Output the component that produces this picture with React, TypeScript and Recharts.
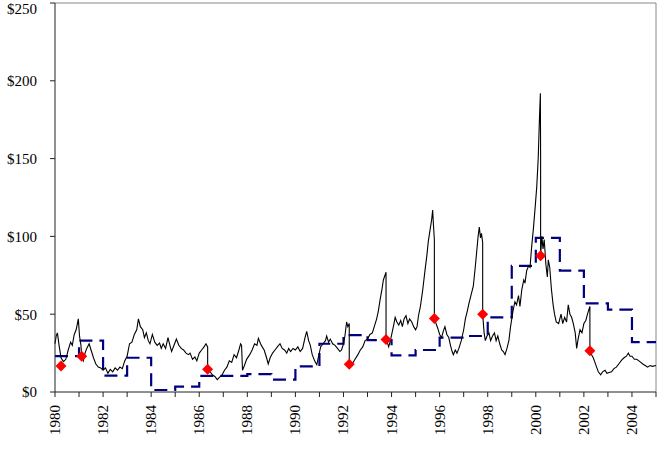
import React from 'react';
import {
  ComposedChart,
  Line,
  Scatter,
  XAxis,
  YAxis,
  ReferenceLine,
} from 'recharts';

// Daily price path, sampled as [year, price] pairs. Repeated years mark the sudden drops.
const priceSeries: [number, number][] = [
  [1980.0, 31], [1980.05, 36], [1980.1, 38], [1980.17, 30], [1980.25, 22], [1980.35, 19.5],
  [1980.45, 21], [1980.55, 27], [1980.65, 32], [1980.72, 30], [1980.8, 37], [1980.88, 40],
  [1980.97, 47], [1981.02, 36], [1981.08, 30], [1981.11, 23], [1981.18, 20], [1981.25, 25],
  [1981.32, 28], [1981.42, 31], [1981.5, 27], [1981.6, 22], [1981.7, 18], [1981.8, 16],
  [1981.9, 15.5], [1982.0, 14], [1982.1, 15.5], [1982.2, 12], [1982.3, 14.5], [1982.4, 13],
  [1982.5, 15.5], [1982.6, 14], [1982.7, 16], [1982.8, 15], [1982.9, 20], [1983.0, 23],
  [1983.1, 31], [1983.2, 32], [1983.3, 37], [1983.4, 40], [1983.47, 47], [1983.55, 42],
  [1983.65, 40], [1983.72, 35], [1983.8, 38], [1983.88, 33], [1983.95, 31], [1984.05, 37],
  [1984.15, 32], [1984.25, 30], [1984.35, 31.5], [1984.42, 28], [1984.5, 31], [1984.6, 28],
  [1984.7, 35], [1984.78, 30], [1984.85, 26], [1984.95, 30], [1985.05, 34], [1985.15, 30],
  [1985.25, 28], [1985.35, 27], [1985.45, 25], [1985.55, 24], [1985.62, 25], [1985.72, 21],
  [1985.82, 22.5], [1985.9, 20], [1986.0, 25], [1986.1, 27], [1986.2, 29], [1986.28, 31],
  [1986.35, 29], [1986.35, 14.6], [1986.45, 13], [1986.55, 11], [1986.65, 10], [1986.75, 8],
  [1986.85, 9.5], [1986.95, 11], [1987.05, 14], [1987.15, 16], [1987.25, 20], [1987.35, 19],
  [1987.45, 24], [1987.55, 22], [1987.65, 27], [1987.72, 31], [1987.76, 30], [1987.8, 14],
  [1987.88, 17], [1987.97, 21], [1988.1, 24], [1988.2, 27], [1988.3, 31], [1988.4, 30],
  [1988.46, 34.5], [1988.55, 31], [1988.62, 29], [1988.7, 27], [1988.8, 22], [1988.87, 18],
  [1988.95, 22], [1989.05, 25], [1989.15, 27], [1989.25, 29], [1989.36, 31], [1989.45, 28],
  [1989.55, 27], [1989.64, 25], [1989.72, 28], [1989.8, 26], [1989.9, 28], [1990.0, 27],
  [1990.1, 29], [1990.2, 26], [1990.3, 28], [1990.4, 35], [1990.47, 39], [1990.55, 33],
  [1990.62, 30], [1990.7, 24], [1990.8, 20], [1990.89, 17.5], [1990.95, 22], [1991.05, 29],
  [1991.15, 31], [1991.25, 33], [1991.3, 36], [1991.38, 32], [1991.45, 34], [1991.55, 31],
  [1991.65, 30], [1991.75, 28], [1991.85, 26], [1991.92, 27], [1992.0, 31], [1992.06, 36],
  [1992.13, 45], [1992.18, 42], [1992.24, 44], [1992.24, 17.8], [1992.32, 19], [1992.4, 19],
  [1992.48, 21], [1992.6, 24], [1992.7, 27], [1992.8, 29], [1992.9, 33], [1993.0, 34],
  [1993.1, 37], [1993.2, 38], [1993.3, 43], [1993.38, 47], [1993.45, 52], [1993.52, 59],
  [1993.6, 66], [1993.66, 72], [1993.77, 77], [1993.77, 33.8], [1993.82, 32], [1993.88, 29],
  [1993.95, 33], [1994.02, 38], [1994.1, 44], [1994.15, 48], [1994.22, 45], [1994.3, 43],
  [1994.38, 46], [1994.45, 42], [1994.52, 47], [1994.6, 49], [1994.68, 44], [1994.75, 47],
  [1994.84, 45], [1994.92, 42], [1995.0, 40], [1995.06, 42], [1995.12, 49], [1995.2, 55],
  [1995.3, 66], [1995.39, 78], [1995.47, 88], [1995.53, 97], [1995.6, 104], [1995.67, 111],
  [1995.71, 117], [1995.74, 108], [1995.78, 98], [1995.78, 47.3], [1995.85, 44], [1995.92, 41],
  [1996.0, 37], [1996.08, 35], [1996.15, 39], [1996.22, 42], [1996.3, 37], [1996.38, 35],
  [1996.45, 30], [1996.52, 26], [1996.57, 24], [1996.65, 27], [1996.72, 25], [1996.8, 28],
  [1996.9, 33], [1997.0, 40], [1997.07, 47], [1997.15, 52], [1997.22, 57], [1997.3, 62],
  [1997.4, 68], [1997.48, 80], [1997.54, 90], [1997.6, 100], [1997.65, 106], [1997.7, 99],
  [1997.74, 102], [1997.79, 96], [1997.79, 50], [1997.85, 38], [1997.9, 33], [1997.97, 36],
  [1998.05, 38], [1998.12, 33], [1998.2, 36], [1998.28, 38], [1998.35, 33], [1998.42, 36],
  [1998.5, 31], [1998.58, 27], [1998.65, 26], [1998.72, 24], [1998.8, 28], [1998.88, 33],
  [1998.95, 42], [1999.05, 52], [1999.13, 58], [1999.2, 56], [1999.28, 62], [1999.34, 55],
  [1999.42, 66], [1999.5, 72], [1999.55, 70], [1999.62, 78], [1999.7, 81], [1999.76, 80],
  [1999.82, 92], [1999.9, 105], [1999.97, 118], [2000.04, 132], [2000.1, 150], [2000.15, 175],
  [2000.19, 192], [2000.2, 150], [2000.2, 87.6], [2000.25, 100], [2000.3, 92], [2000.35, 98],
  [2000.42, 82], [2000.48, 74], [2000.52, 85], [2000.58, 80], [2000.65, 66], [2000.72, 56],
  [2000.78, 50], [2000.85, 45], [2000.95, 44], [2001.05, 50], [2001.12, 44], [2001.2, 48],
  [2001.28, 45], [2001.35, 56], [2001.42, 50], [2001.49, 48], [2001.56, 44], [2001.64, 38],
  [2001.7, 28], [2001.76, 34], [2001.84, 40], [2001.92, 38], [2002.0, 44], [2002.08, 46],
  [2002.15, 50], [2002.25, 55], [2002.25, 26.5], [2002.32, 24], [2002.39, 22], [2002.46, 19],
  [2002.53, 16], [2002.6, 13], [2002.7, 11], [2002.78, 13], [2002.88, 14], [2002.96, 12],
  [2003.05, 12.5], [2003.15, 13], [2003.25, 15], [2003.35, 16], [2003.45, 18], [2003.57, 20.5],
  [2003.67, 22], [2003.77, 23], [2003.85, 25], [2003.92, 23], [2004.0, 23], [2004.1, 21],
  [2004.2, 21], [2004.33, 19.5], [2004.45, 18], [2004.55, 17], [2004.65, 16], [2004.75, 17],
  [2004.85, 16.5], [2005.0, 17],
];

// Yearly level, held flat through each calendar year
const annualYears = [
  1980, 1981, 1982, 1983, 1984, 1985, 1986, 1987, 1988, 1989, 1990, 1991, 1992,
  1993, 1994, 1995, 1996, 1997, 1998, 1999, 2000, 2001, 2002, 2003, 2004, 2005,
];
const annualLevels = [
  23, 33, 10.5, 22, 1.3, 3.4, 10.3, 10.3, 11.5, 8, 16.5, 31, 36.5,
  33.4, 23.5, 27, 35, 36, 48, 81, 99, 78, 57, 53, 32, 32,
];

// Reset points at the bottom of each drop
const resetYears = [1980.25, 1981.11, 1986.35, 1992.24, 1993.77, 1995.78, 1997.79, 2000.2, 2002.25];
const resetValues = [16.7, 23, 14.6, 17.8, 33.8, 47.3, 50, 87.6, 26.5];

const yearTicks = annualYears;
const priceTicks = [0, 50, 100, 150, 200, 250];

const priceData = priceSeries.map(([year, price]) => ({ year, price }));
const annualData = annualYears.map((year, i) => ({ year, level: annualLevels[i] }));
const resetData = resetYears.map((year, i) => ({ year, reset: resetValues[i] }));

const FONT = '"Liberation Serif", "Times New Roman", serif';

const YearTick = (props: any) => {
  const { x, y, payload } = props;
  if (payload.value % 2 !== 0) return null;
  return (
    <text
      x={x}
      y={y}
      transform={`rotate(-90, ${x}, ${y})`}
      textAnchor="end"
      dominantBaseline="central"
      fontFamily={FONT}
      fontSize={15}
      fill="#000"
    >
      {payload.value}
    </text>
  );
};

const Diamond = (props: any) => {
  const { cx, cy } = props;
  const r = 5.5;
  return (
    <polygon
      points={`${cx},${cy - r} ${cx + r},${cy} ${cx},${cy + r} ${cx - r},${cy}`}
      fill="#ff0000"
    />
  );
};

export default function App() {
  return (
    <div style={{ position: 'absolute', left: 0, top: 0, background: '#fff' }}>
      <ComposedChart
        width={663}
        height={462}
        margin={{ top: 3, right: 7, bottom: 10, left: 0 }}
      >
        <XAxis
          type="number"
          dataKey="year"
          domain={[1980, 2005]}
          ticks={yearTicks}
          interval={0}
          allowDuplicatedCategory={false}
          tick={<YearTick />}
          tickSize={5}
          tickMargin={8}
          height={60}
          stroke="#222"
        />
        <YAxis
          type="number"
          domain={[0, 250]}
          ticks={priceTicks}
          tickFormatter={(v: number) => `$${v}`}
          tickSize={5}
          tickMargin={13}
          width={55}
          stroke="#222"
          tick={{ fill: '#000', fontFamily: FONT, fontSize: 15 }}
        />
        <ReferenceLine y={250} stroke="#888" />
        <ReferenceLine x={2005} stroke="#888" />

        <Line
          data={annualData}
          dataKey="level"
          type="stepAfter"
          stroke="#000080"
          strokeWidth={2.2}
          strokeDasharray="13 7"
          dot={false}
          activeDot={false}
          isAnimationActive={false}
        />
        <Line
          data={priceData}
          dataKey="price"
          type="linear"
          stroke="#000"
          strokeWidth={1.1}
          dot={false}
          activeDot={false}
          isAnimationActive={false}
        />
        <Scatter
          data={resetData}
          dataKey="reset"
          shape={<Diamond />}
          isAnimationActive={false}
        />
      </ComposedChart>
    </div>
  );
}
